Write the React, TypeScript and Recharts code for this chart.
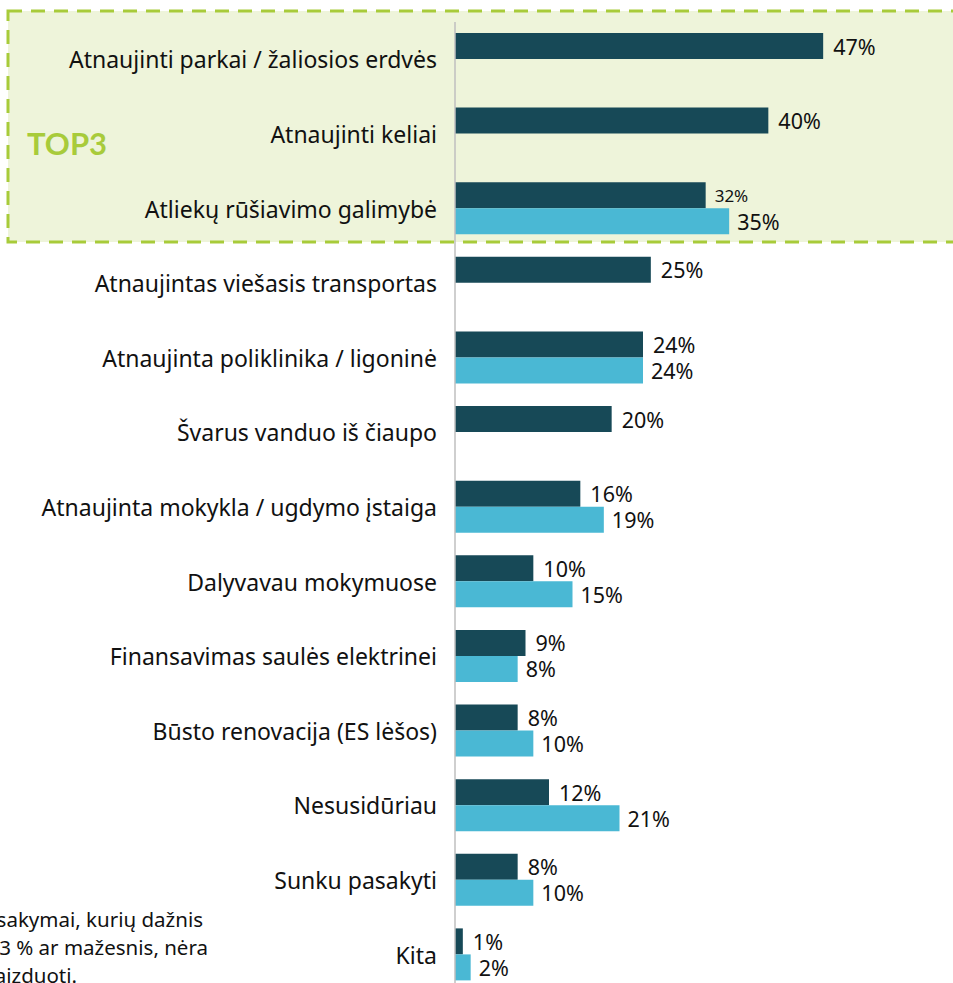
import React from 'react';
import { Bar, BarChart, LabelList, XAxis, YAxis } from 'recharts';

const categories = [
  'Atnaujinti parkai / žaliosios erdvės',
  'Atnaujinti keliai',
  'Atliekų rūšiavimo galimybė',
  'Atnaujintas viešasis transportas',
  'Atnaujinta poliklinika / ligoninė',
  'Švarus vanduo iš čiaupo',
  'Atnaujinta mokykla / ugdymo įstaiga',
  'Dalyvavau mokymuose',
  'Finansavimas saulės elektrinei',
  'Būsto renovacija (ES lėšos)',
  'Nesusidūriau',
  'Sunku pasakyti',
  'Kita',
];

const darkValues = [47, 40, 32, 25, 24, 20, 16, 10, 9, 8, 12, 8, 1];
const lightValues: (number | null)[] = [null, null, 35, null, 24, null, 19, 15, 8, 10, 21, 10, 2];

const footnoteLines = ['Atsakymai, kurių dažnis', 'yra 3 % ar mažesnis, nėra', 'vaizduoti.'];

const DARK = '#174957';
const LIGHT = '#4AB8D4';
const GREEN = '#A8CB3A';
const FONT = '"Noto Sans", "Open Sans", sans-serif';

const data = categories.map((name, i) => ({ name, a: darkValues[i], b: lightValues[i] }));

// category label, right aligned a bit left of the axis line
const CategoryTick = (props: any) => {
  const { x, y, payload } = props;
  return (
    <text x={x - 10} y={y} textAnchor="end" dominantBaseline="central" fontSize={23} fill="#111" fontFamily={FONT}>
      {payload.value}
    </text>
  );
};

const valueLabel = (offset: number) => (props: any) => {
  const { x, y, width, height, value, index } = props;
  if (value == null) return null;
  // the 32% label is drawn smaller in the original
  const small = offset === 10 && index === 2;
  return (
    <text
      x={x + width + (small ? 9 : offset)}
      y={y + height / 2}
      dominantBaseline="central"
      fontSize={small ? 17 : 21.5}
      fill="#111"
      fontFamily={FONT}
    >
      {value}%
    </text>
  );
};

export default function App() {
  return (
    <div style={{ position: 'absolute', left: 0, top: 0, width: 953, height: 983, overflow: 'hidden', background: '#fff' }}>
      <svg width={953} height={983} style={{ position: 'absolute', left: 0, top: 0 }}>
        <rect x={8} y={11} width={970} height={231} fill="#EEF4DA" stroke={GREEN} strokeWidth={3} strokeDasharray="14 9" />
        <text x={27} y={155} fontSize={31} fontWeight={700} fill={GREEN} fontFamily="Lato, sans-serif">
          TOP3
        </text>
        {footnoteLines.map((line, i) => (
          <text key={line} x={[203, 208, 77][i]} y={927 + i * 28} textAnchor="end" fontSize={20.5} fill="#111" fontFamily={FONT}>
            {line}
          </text>
        ))}
      </svg>
      <div style={{ position: 'absolute', left: 0, top: 0 }}>
        <BarChart
          width={953}
          height={992}
          data={data}
          layout="vertical"
          margin={{ top: 22, right: 28, bottom: 0, left: 0 }}
          barSize={26}
          barGap={0}
        >
          <XAxis type="number" domain={[0, 60]} hide />
          <YAxis
            type="category"
            dataKey="name"
            width={455}
            tickLine={false}
            axisLine={{ stroke: '#BFBFBF', strokeWidth: 1.5 }}
            tick={<CategoryTick />}
            interval={0}
          />
          <Bar dataKey="a" fill={DARK} isAnimationActive={false}>
            <LabelList dataKey="a" content={valueLabel(10)} />
          </Bar>
          <Bar dataKey="b" fill={LIGHT} isAnimationActive={false}>
            <LabelList dataKey="b" content={valueLabel(8)} />
          </Bar>
        </BarChart>
      </div>
    </div>
  );
}
